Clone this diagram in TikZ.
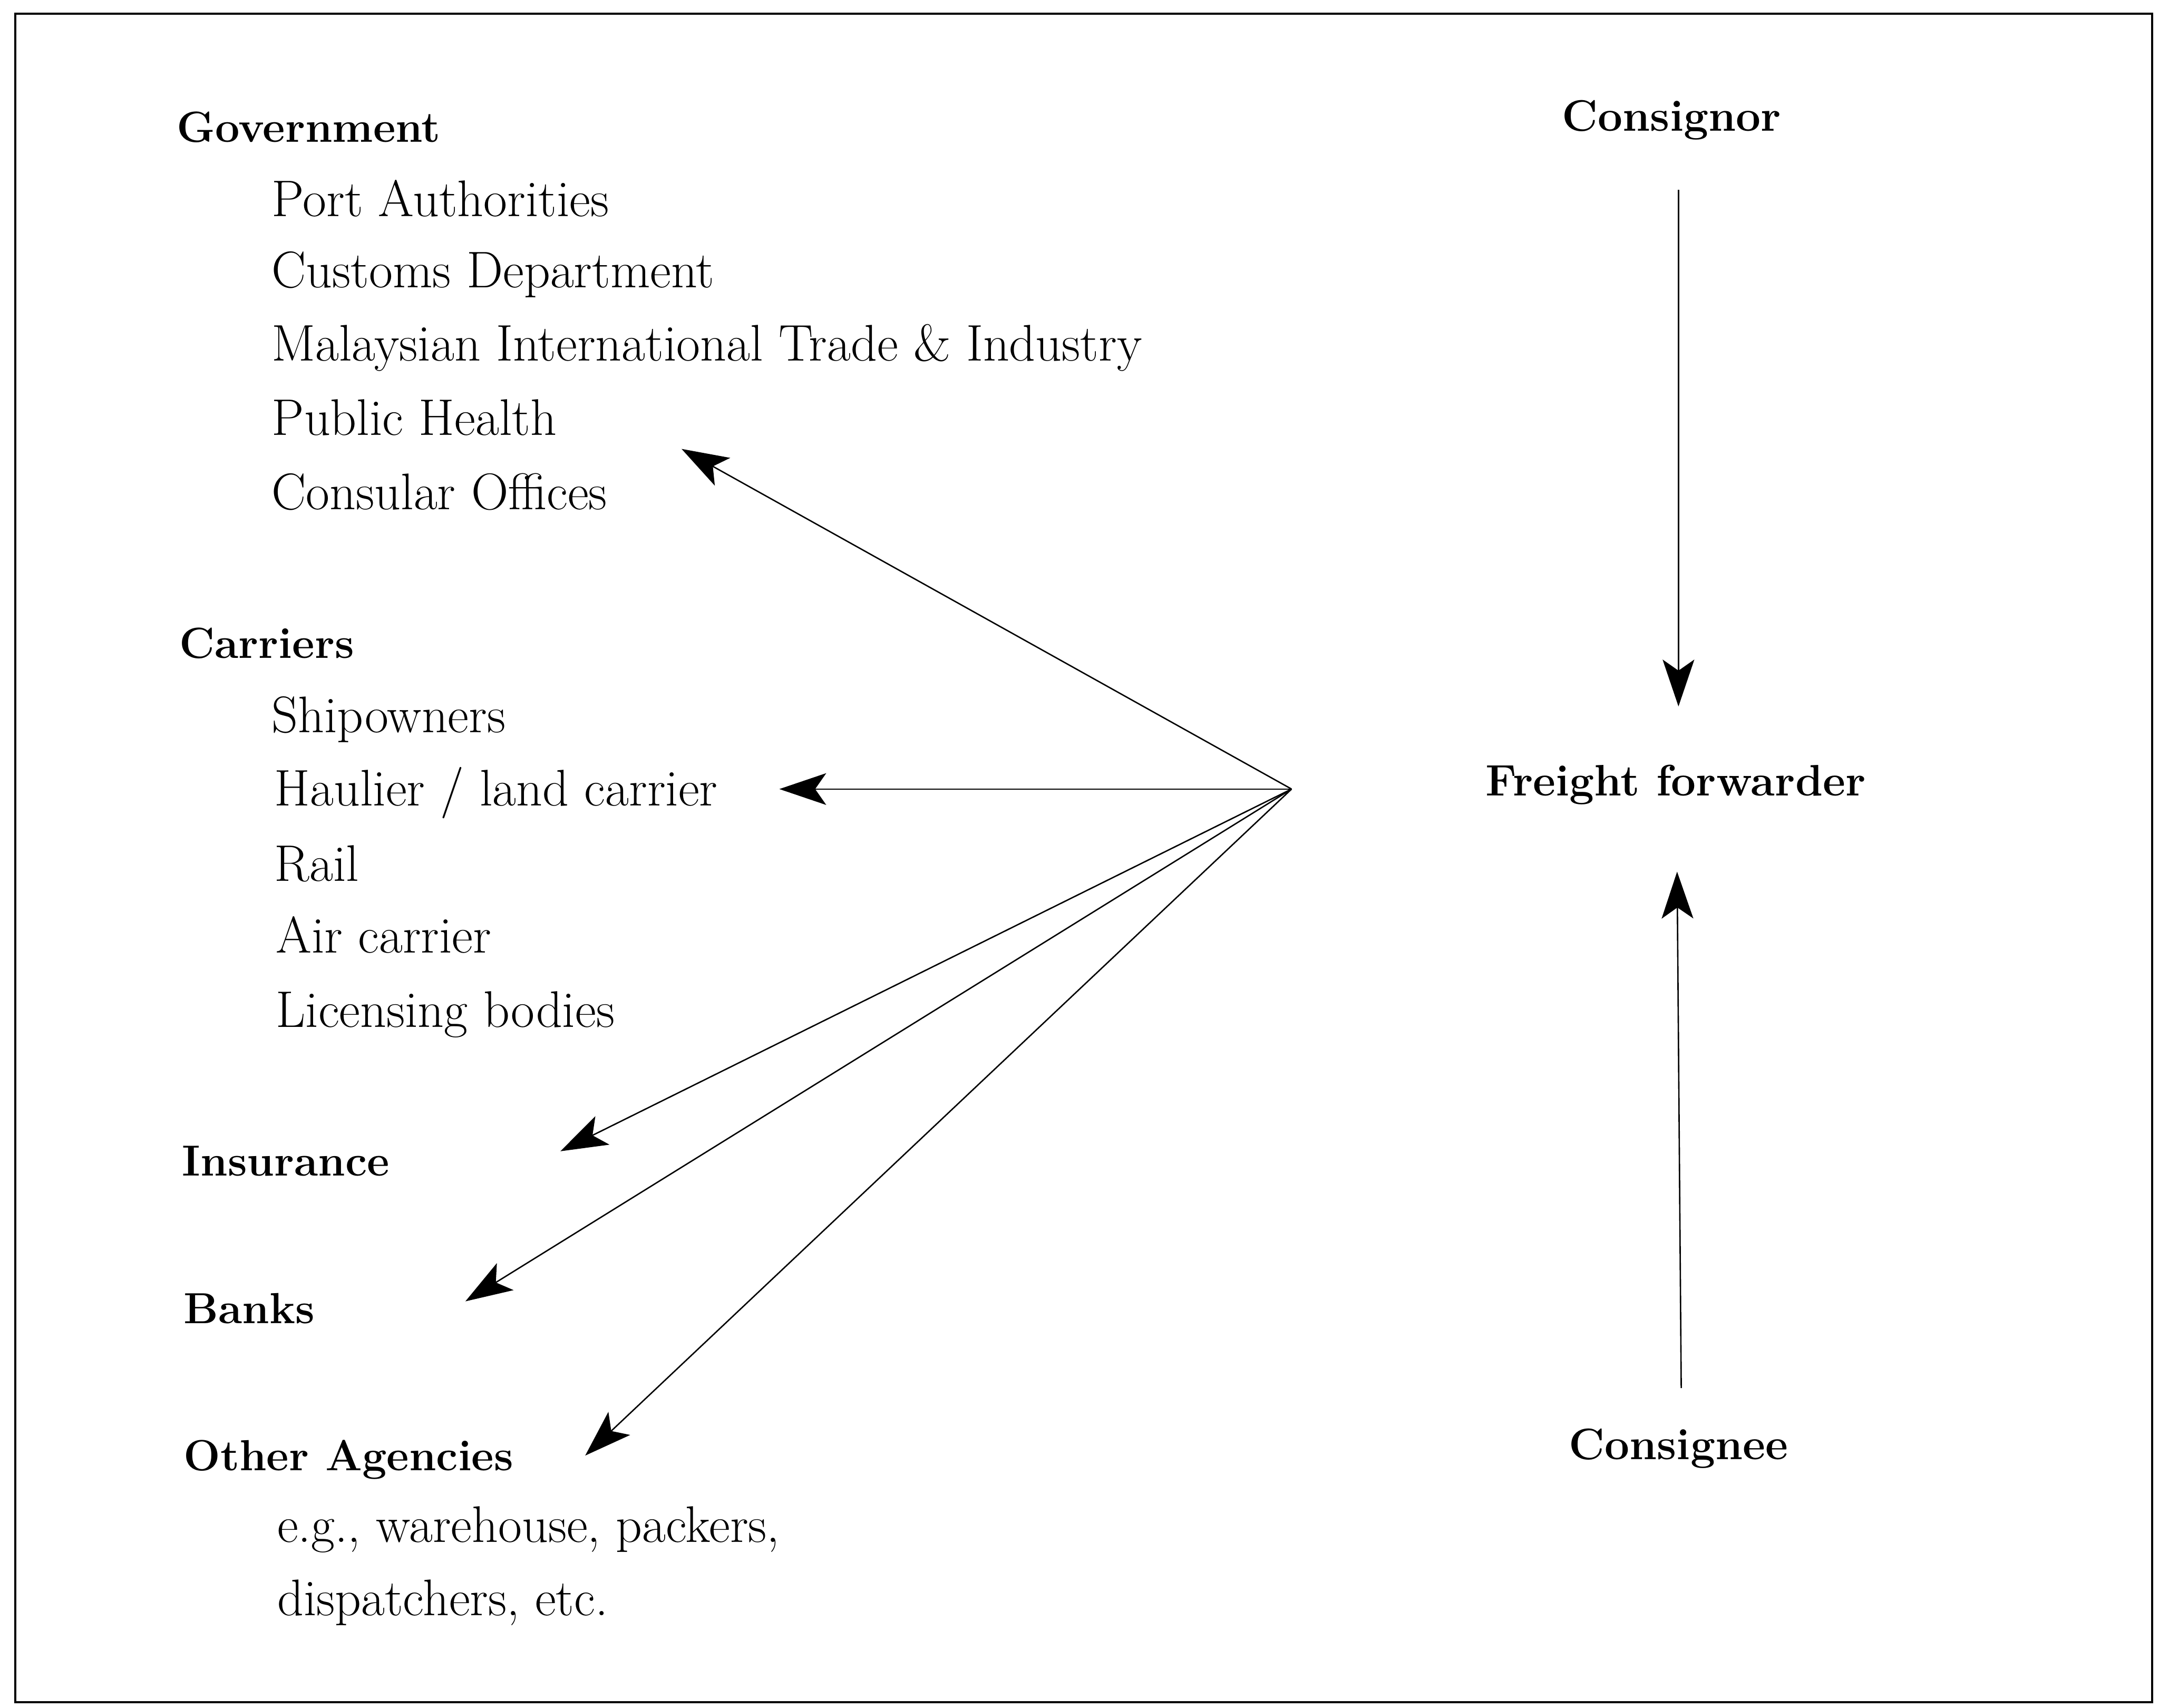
\documentclass[tikz,border=0pt]{standalone}
\usepackage{tikz}
\usetikzlibrary{arrows.meta}

\tikzset{
	grouphead/.style={font=\fontsize{15.8}{18}\selectfont\bfseries, anchor=base west, inner sep=0pt},
	partyhead/.style={font=\fontsize{16}{18}\selectfont\bfseries, anchor=base, inner sep=0pt},
	entry/.style={font=\fontsize{18.7}{22}\selectfont, anchor=base west, inner sep=0pt},
	link/.style={-{Stealth[length=17pt, width=11.5pt, inset=4pt]}, line width=0.5pt}
}

\begin{document}
\begin{tikzpicture}[x=0.5pt, y=-0.5pt]
	\useasboundingbox (0,0) rectangle (1568,1240);
	
	% Frame
	\draw[line width=0.8pt] (11,10) rectangle (1563,1236);
	
	% Government
	\node[grouphead] (gov) at (128,103) {Government};
	\node[entry] (port) at (197,157) {Port Authorities};
	\node[entry] (customs) at (197,209) {Customs Department};
	\node[entry] (miti) at (197,262) {Malaysian International Trade \& Industry};
	\node[entry] (health) at (197,316) {Public Health};
	\node[entry] (consular) at (197,370) {Consular Offices};
	
	% Carriers
	\node[grouphead] (carriers) at (130,478) {Carriers};
	\node[entry] (ship) at (197,532) {Shipowners};
	\node[entry] (haulier) at (199,585) {Haulier / land carrier};
	\node[entry] (rail) at (199,640) {Rail};
	\node[entry] (air) at (200,692) {Air carrier};
	\node[entry] (licence) at (200,746) {Licensing bodies};
	
	% Insurance, banks, others
	\node[grouphead] (insurance) at (132,854) {Insurance};
	\node[grouphead] (banks) at (133,961) {Banks};
	\node[grouphead] (others) at (133,1068) {Other Agencies};
	\node[entry] (eg) at (201,1120) {e.g., warehouse, packers,};
	\node[entry] (disp) at (201,1173) {dispatchers, etc.};
	
	% Parties on the right
	\node[partyhead] (consignor) at (1214,95) {Consignor};
	\node[partyhead] (forwarder) at (1217,578) {Freight forwarder};
	\node[partyhead] (consignee) at (1219,1060) {Consignee};
	
	% Arrow ends
	\coordinate (hub) at (938,573);
	\coordinate (govtip) at (495,326);
	\coordinate (cartip) at (566,573);
	\coordinate (instip) at (407,836);
	\coordinate (banktip) at (338,945);
	\coordinate (othtip) at (425,1057);
	\coordinate (ortop) at (1219,138);
	\coordinate (ortip) at (1219,513);
	\coordinate (eebot) at (1221,1008);
	\coordinate (eetip) at (1218,633);
	
	% Fan from the forwarder
	\draw[link] (hub) -- (govtip);
	\draw[link] (hub) -- (cartip);
	\draw[link] (hub) -- (instip);
	\draw[link] (hub) -- (banktip);
	\draw[link] (hub) -- (othtip);
	
	% Consignor and consignee
	\draw[link] (ortop) -- (ortip);
	\draw[link] (eebot) -- (eetip);
	
\end{tikzpicture}
\end{document}
